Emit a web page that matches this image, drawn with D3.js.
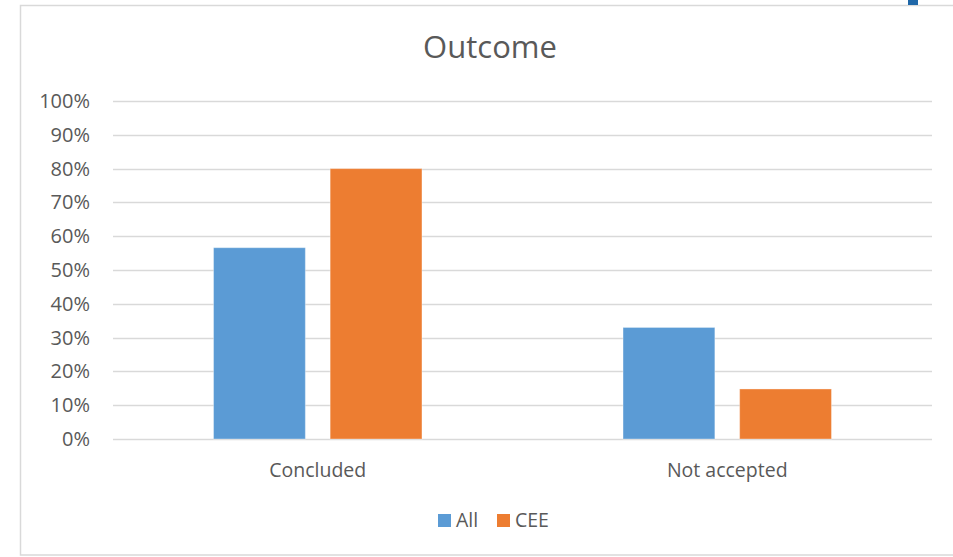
<!DOCTYPE html>
<html>
<head>
<meta charset="utf-8">
<script src="https://cdn.jsdelivr.net/npm/d3@7"></script>
<style>
  html, body { margin: 0; padding: 0; background: #fff; }
  svg { display: block; }
  text { font-family: "Open Sans", "Liberation Sans", sans-serif; fill: #595959; }
</style>
</head>
<body>
<svg id="chart" width="953" height="557"></svg>
<script>
// Outcome shares by category
const categories = ["Concluded", "Not accepted"];
const seriesNames = ["All", "CEE"];
const allValues = [0.566, 0.33];
const ceeValues = [0.80, 0.148];
const yTicks = [0, 0.1, 0.2, 0.3, 0.4, 0.5, 0.6, 0.7, 0.8, 0.9, 1.0];
const colors = ["#5B9BD5", "#ED7D31"];

const svg = d3.select("#chart");
const FONT = "'Open Sans', 'Liberation Sans', sans-serif";

// chart frame
svg.append("rect")
  .attr("x", 20.5).attr("y", 5.5)
  .attr("width", 960).attr("height", 549.5)
  .attr("fill", "#fff").attr("stroke", "#D9D9D9").attr("stroke-width", 1.5);
svg.append("rect")
  .attr("x", 908).attr("y", 0).attr("width", 10).attr("height", 5)
  .attr("fill", "#1F67A8");

const plot = { left: 113, right: 932, top: 101, bottom: 439 };

const y = d3.scaleLinear().domain([0, 1]).range([plot.bottom, plot.top]);
const x = d3.scaleBand().domain(categories).range([plot.left, plot.right]).padding(0);

// bar width from a 219% gap and -27% overlap
const barW = x.bandwidth() / (2 + 0.27 + 2.19);
const gapW = 0.27 * barW;

// gridlines
svg.append("g")
  .selectAll("line")
  .data(yTicks)
  .join("line")
  .attr("x1", plot.left).attr("x2", plot.right)
  .attr("y1", d => Math.round(y(d)) + 0.5).attr("y2", d => Math.round(y(d)) + 0.5)
  .attr("stroke", "#D9D9D9").attr("stroke-width", 1.3);

// y axis labels
const yAxis = d3.axisLeft(y).tickValues(yTicks).tickFormat(d3.format(".0%")).tickSize(0).tickPadding(0);
const gy = svg.append("g").attr("transform", "translate(90,0)").call(yAxis);
gy.select(".domain").remove();
gy.selectAll("text").attr("font-size", 20).attr("fill", "#595959").attr("font-family", FONT);

// bars
const rows = categories.map((c, i) => ({ cat: c, vals: [allValues[i], ceeValues[i]] }));
const groups = svg.append("g").selectAll("g")
  .data(rows).join("g")
  .attr("transform", d => `translate(${x(d.cat) + x.bandwidth() / 2},0)`);

groups.selectAll("rect")
  .data(d => d.vals.map((v, j) => ({ v, j })))
  .join("rect")
  .attr("x", d => d.j === 0 ? -(barW + gapW / 2) : gapW / 2)
  .attr("width", barW)
  .attr("y", d => y(d.v))
  .attr("height", d => y(0) - y(d.v))
  .attr("fill", d => colors[d.j])
  .attr("stroke", "#fff").attr("stroke-opacity", 0.35).attr("stroke-width", 1);

// category axis labels
const xAxis = d3.axisBottom(x).tickSize(0).tickPadding(0);
const gx = svg.append("g").attr("transform", `translate(0,${plot.bottom + 37.5})`).call(xAxis);
gx.select(".domain").remove();
gx.selectAll("text").attr("font-size", 19.5).attr("fill", "#595959").attr("dy", 0)
  .attr("font-family", FONT);

// title
svg.append("text")
  .attr("x", 490).attr("y", 58)
  .attr("text-anchor", "middle")
  .attr("font-size", 31)
  .text("Outcome");

// legend
const legend = svg.append("g");
const legendItems = [
  { name: seriesNames[0], color: colors[0], x: 438 },
  { name: seriesNames[1], color: colors[1], x: 497 }
];
legendItems.forEach(it => {
  legend.append("rect").attr("x", it.x).attr("y", 514).attr("width", 13).attr("height", 13).attr("fill", it.color);
  legend.append("text").attr("x", it.x + 18).attr("y", 527).attr("font-size", 19.5).text(it.name);
});
</script>
</body>
</html>
